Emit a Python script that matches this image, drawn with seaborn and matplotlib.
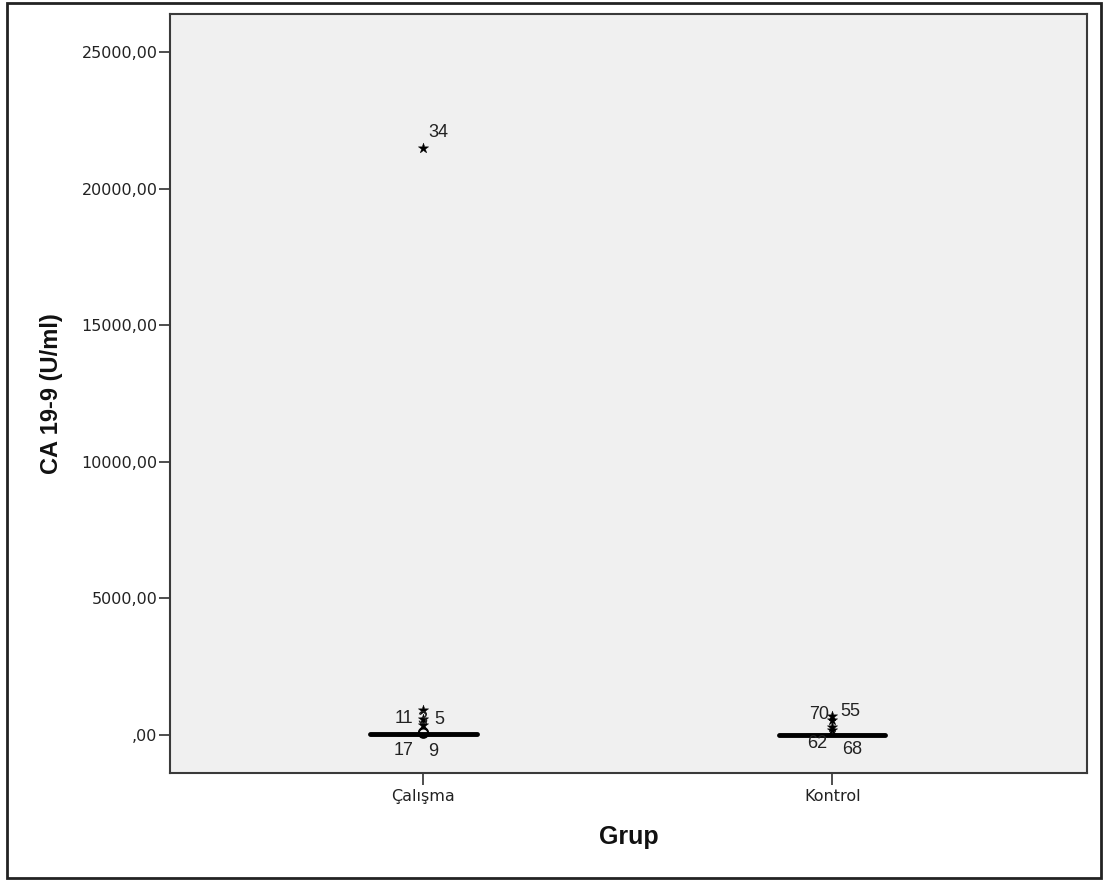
import matplotlib
matplotlib.use("Agg")
import matplotlib.pyplot as plt
import seaborn as sns
import pandas as pd
from matplotlib.patches import Rectangle

# ---- data ----
groups = ["Çalışma", "Kontrol"]
calisma_values = [2, 4, 6, 8, 10, 12, 14, 16, 18, 20, 22, 25, 28, 32, 36, 40, 45, 55, 70]
kontrol_values = [3, 5, 6, 8, 9, 10, 11, 12, 14, 15, 17, 19, 21, 24, 27, 30, 35, 42, 55]

# outliers: group, value, case label, marker kind
out_groups = ["Çalışma", "Çalışma", "Çalışma", "Çalışma", "Çalışma", "Çalışma",
              "Kontrol", "Kontrol", "Kontrol", "Kontrol"]
out_values = [21500, 900, 600, 350, 90, 60, 700, 550, 300, 180]
out_labels = ["34", "5", "11", "3", "9", "17", "55", "70", "68", "62"]
out_kinds = ["star", "star", "star", "star", "circle", "circle", "star", "star", "star", "star"]
# label offsets in points (dx, dy), label centred on offset
out_label_offsets = [(10.8, 11.2), (11.5, -6.2), (-14, 0), (-0.7, 4.6), (7, -13.3), (-14.4, -12.7),
                     (13, 3.5), (-9.4, 3.6), (14.4, -16.7), (-10.8, -10)]

ytick_values = [0, 5000, 10000, 15000, 20000, 25000]
ytick_labels = [",00", "5000,00", "10000,00", "15000,00", "20000,00", "25000,00"]

df = pd.DataFrame({
    "Grup": [groups[0]] * len(calisma_values) + [groups[1]] * len(kontrol_values),
    "val": calisma_values + kontrol_values,
})
odf = pd.DataFrame({"Grup": out_groups, "val": out_values, "lab": out_labels, "kind": out_kinds})

sns.set_theme(style="white")
plt.rcParams["font.family"] = ["DejaVu Sans"]

fig = plt.figure(figsize=(11.05, 8.81), dpi=100)
fig.patch.set_facecolor("white")
ax = fig.add_axes([170 / 1105, 1 - 773 / 881, 917 / 1105, 759 / 881])
ax.set_facecolor("#F0F0F0")

sns.boxplot(data=df, x="Grup", y="val", order=groups, ax=ax, width=0.26,
            showfliers=False, color="#F0F0F0", linecolor="black", linewidth=1.0,
            medianprops=dict(color="black", linewidth=3.5, solid_capstyle="round"))

pos = {g: i for i, g in enumerate(groups)}
for kind, mk, fc in [("star", "*", "black"), ("circle", "o", "none")]:
    sub = odf[odf["kind"] == kind]
    sns.scatterplot(x=sub["Grup"].map(pos), y=sub["val"], ax=ax, marker=mk, s=60 if mk == "*" else 45,
                    facecolor=fc, edgecolor="black", linewidth=1.2 if mk == "o" else 0.3, zorder=5,
                    legend=False)

for (g, v, lab), (dx, dy) in zip(odf[["Grup", "val", "lab"]].values, out_label_offsets):
    ax.annotate(lab, (pos[g], v), xytext=(dx, dy), textcoords="offset points",
                fontsize=13, family="Liberation Sans", color="#222222", ha="center", va="center",
                zorder=6)

ax.set_xlim(-0.62, 1.623)
ax.set_ylim(-1391, 26390)
ax.set_yticks(ytick_values)
ax.set_yticklabels(ytick_labels)
ax.set_xticks([0, 1])
ax.set_xticklabels(groups)
ax.tick_params(axis="y", which="major", direction="out", length=8, width=1.3,
               color="#404040", labelsize=11.5, labelcolor="#222222", left=True, pad=1)
ax.tick_params(axis="x", which="major", direction="out", length=8.5, width=1.3,
               color="#404040", labelsize=11.5, labelcolor="#222222", bottom=True, pad=3)
for s in ax.spines.values():
    s.set_color("#3a3a3a")
    s.set_linewidth(1.5)
    s.set_visible(True)

ax.set_ylabel("CA 19-9 (U/ml)", fontsize=17, fontweight="bold", family="Liberation Sans",
              color="#111111", labelpad=13)
ax.set_xlabel("Grup", fontsize=18, fontweight="bold", family="Liberation Sans",
              color="#111111", labelpad=15)

fig.patches.append(Rectangle((7 / 1105, 3 / 881), 1094 / 1105, 875 / 881, transform=fig.transFigure,
                             fill=False, edgecolor="#222222", linewidth=2.0))

fig.savefig("out.png", dpi=100)
